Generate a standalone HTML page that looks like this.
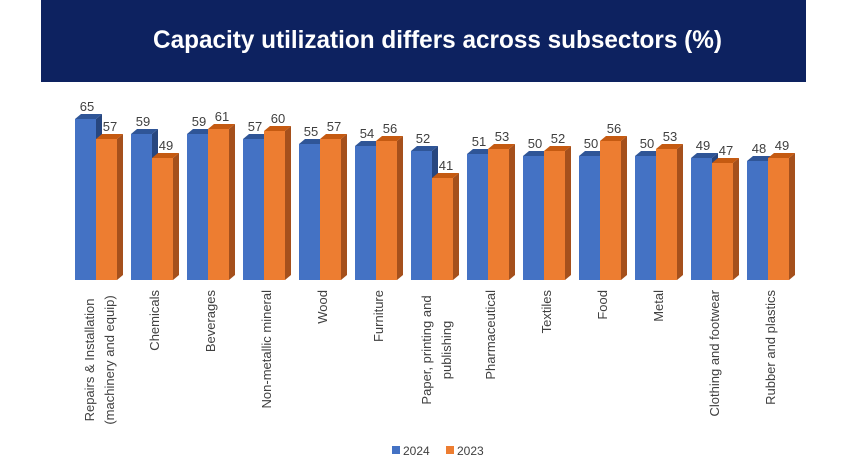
<!DOCTYPE html>
<html><head><meta charset="utf-8"><style>
body{margin:0;background:#fff;}
svg{display:block;font-family:"Liberation Sans",sans-serif;}
.b .f{fill:#4472c4}.b .t{fill:#2f5597}.b .s{fill:#27467f}
.o .f{fill:#ed7d31}.o .t{fill:#c55a11}.o .s{fill:#a5501c}
.v{font-size:13px;fill:#404040;text-anchor:middle}
.l{font-size:13px;fill:#404040}
</style></head><body>
<svg width="847" height="474" viewBox="0 0 847 474" xmlns="http://www.w3.org/2000/svg">
<rect x="0" y="0" width="847" height="474" fill="#fff"/>
<rect x="41" y="0" width="765" height="82" fill="#0d2260"/>
<text x="153" y="48" textLength="569" lengthAdjust="spacingAndGlyphs" fill="#fff" font-size="25" font-weight="bold">Capacity utilization differs across subsectors (%)</text>

<g class="b" transform="translate(75,0)"><polygon class="s" points="21,119 27,114 27,275 21,280"/><polygon class="t" points="0,119 6,114 27,114 21,119"/><rect class="f" x="0" y="119" width="21" height="161"/><text class="v" x="12" y="111">65</text></g>
<g class="o" transform="translate(96,0)"><polygon class="s" points="21,139 27,134 27,275 21,280"/><polygon class="t" points="0,139 6,134 27,134 21,139"/><rect class="f" x="0" y="139" width="21" height="141"/><text class="v" x="14" y="131">57</text></g>

<g class="b" transform="translate(131,0)"><polygon class="s" points="21,134 27,129 27,275 21,280"/><polygon class="t" points="0,134 6,129 27,129 21,134"/><rect class="f" x="0" y="134" width="21" height="146"/><text class="v" x="12" y="126">59</text></g>
<g class="o" transform="translate(152,0)"><polygon class="s" points="21,158 27,153 27,275 21,280"/><polygon class="t" points="0,158 6,153 27,153 21,158"/><rect class="f" x="0" y="158" width="21" height="122"/><text class="v" x="14" y="150">49</text></g>

<g class="b" transform="translate(187,0)"><polygon class="s" points="21,134 27,129 27,275 21,280"/><polygon class="t" points="0,134 6,129 27,129 21,134"/><rect class="f" x="0" y="134" width="21" height="146"/><text class="v" x="12" y="126">59</text></g>
<g class="o" transform="translate(208,0)"><polygon class="s" points="21,129 27,124 27,275 21,280"/><polygon class="t" points="0,129 6,124 27,124 21,129"/><rect class="f" x="0" y="129" width="21" height="151"/><text class="v" x="14" y="121">61</text></g>

<g class="b" transform="translate(243,0)"><polygon class="s" points="21,139 27,134 27,275 21,280"/><polygon class="t" points="0,139 6,134 27,134 21,139"/><rect class="f" x="0" y="139" width="21" height="141"/><text class="v" x="12" y="131">57</text></g>
<g class="o" transform="translate(264,0)"><polygon class="s" points="21,131 27,126 27,275 21,280"/><polygon class="t" points="0,131 6,126 27,126 21,131"/><rect class="f" x="0" y="131" width="21" height="149"/><text class="v" x="14" y="123">60</text></g>

<g class="b" transform="translate(299,0)"><polygon class="s" points="21,144 27,139 27,275 21,280"/><polygon class="t" points="0,144 6,139 27,139 21,144"/><rect class="f" x="0" y="144" width="21" height="136"/><text class="v" x="12" y="136">55</text></g>
<g class="o" transform="translate(320,0)"><polygon class="s" points="21,139 27,134 27,275 21,280"/><polygon class="t" points="0,139 6,134 27,134 21,139"/><rect class="f" x="0" y="139" width="21" height="141"/><text class="v" x="14" y="131">57</text></g>

<g class="b" transform="translate(355,0)"><polygon class="s" points="21,146 27,141 27,275 21,280"/><polygon class="t" points="0,146 6,141 27,141 21,146"/><rect class="f" x="0" y="146" width="21" height="134"/><text class="v" x="12" y="138">54</text></g>
<g class="o" transform="translate(376,0)"><polygon class="s" points="21,141 27,136 27,275 21,280"/><polygon class="t" points="0,141 6,136 27,136 21,141"/><rect class="f" x="0" y="141" width="21" height="139"/><text class="v" x="14" y="133">56</text></g>

<g class="b" transform="translate(411,0)"><polygon class="s" points="21,151 27,146 27,275 21,280"/><polygon class="t" points="0,151 6,146 27,146 21,151"/><rect class="f" x="0" y="151" width="21" height="129"/><text class="v" x="12" y="143">52</text></g>
<g class="o" transform="translate(432,0)"><polygon class="s" points="21,178 27,173 27,275 21,280"/><polygon class="t" points="0,178 6,173 27,173 21,178"/><rect class="f" x="0" y="178" width="21" height="102"/><text class="v" x="14" y="170">41</text></g>

<g class="b" transform="translate(467,0)"><polygon class="s" points="21,154 27,149 27,275 21,280"/><polygon class="t" points="0,154 6,149 27,149 21,154"/><rect class="f" x="0" y="154" width="21" height="126"/><text class="v" x="12" y="146">51</text></g>
<g class="o" transform="translate(488,0)"><polygon class="s" points="21,149 27,144 27,275 21,280"/><polygon class="t" points="0,149 6,144 27,144 21,149"/><rect class="f" x="0" y="149" width="21" height="131"/><text class="v" x="14" y="141">53</text></g>

<g class="b" transform="translate(523,0)"><polygon class="s" points="21,156 27,151 27,275 21,280"/><polygon class="t" points="0,156 6,151 27,151 21,156"/><rect class="f" x="0" y="156" width="21" height="124"/><text class="v" x="12" y="148">50</text></g>
<g class="o" transform="translate(544,0)"><polygon class="s" points="21,151 27,146 27,275 21,280"/><polygon class="t" points="0,151 6,146 27,146 21,151"/><rect class="f" x="0" y="151" width="21" height="129"/><text class="v" x="14" y="143">52</text></g>

<g class="b" transform="translate(579,0)"><polygon class="s" points="21,156 27,151 27,275 21,280"/><polygon class="t" points="0,156 6,151 27,151 21,156"/><rect class="f" x="0" y="156" width="21" height="124"/><text class="v" x="12" y="148">50</text></g>
<g class="o" transform="translate(600,0)"><polygon class="s" points="21,141 27,136 27,275 21,280"/><polygon class="t" points="0,141 6,136 27,136 21,141"/><rect class="f" x="0" y="141" width="21" height="139"/><text class="v" x="14" y="133">56</text></g>

<g class="b" transform="translate(635,0)"><polygon class="s" points="21,156 27,151 27,275 21,280"/><polygon class="t" points="0,156 6,151 27,151 21,156"/><rect class="f" x="0" y="156" width="21" height="124"/><text class="v" x="12" y="148">50</text></g>
<g class="o" transform="translate(656,0)"><polygon class="s" points="21,149 27,144 27,275 21,280"/><polygon class="t" points="0,149 6,144 27,144 21,149"/><rect class="f" x="0" y="149" width="21" height="131"/><text class="v" x="14" y="141">53</text></g>

<g class="b" transform="translate(691,0)"><polygon class="s" points="21,158 27,153 27,275 21,280"/><polygon class="t" points="0,158 6,153 27,153 21,158"/><rect class="f" x="0" y="158" width="21" height="122"/><text class="v" x="12" y="150">49</text></g>
<g class="o" transform="translate(712,0)"><polygon class="s" points="21,163 27,158 27,275 21,280"/><polygon class="t" points="0,163 6,158 27,158 21,163"/><rect class="f" x="0" y="163" width="21" height="117"/><text class="v" x="14" y="155">47</text></g>

<g class="b" transform="translate(747,0)"><polygon class="s" points="21,161 27,156 27,275 21,280"/><polygon class="t" points="0,161 6,156 27,156 21,161"/><rect class="f" x="0" y="161" width="21" height="119"/><text class="v" x="12" y="153">48</text></g>
<g class="o" transform="translate(768,0)"><polygon class="s" points="21,158 27,153 27,275 21,280"/><polygon class="t" points="0,158 6,153 27,153 21,158"/><rect class="f" x="0" y="158" width="21" height="122"/><text class="v" x="14" y="150">49</text></g>

<text class="l" transform="translate(94,360) rotate(-90)" text-anchor="middle">Repairs &amp; Installation</text>
<text class="l" transform="translate(114,360) rotate(-90)" text-anchor="middle">(machinery and equip)</text>
<text class="l" transform="translate(159,290) rotate(-90)" text-anchor="end">Chemicals</text>
<text class="l" transform="translate(215,290) rotate(-90)" text-anchor="end">Beverages</text>
<text class="l" transform="translate(271,290) rotate(-90)" text-anchor="end">Non-metallic mineral</text>
<text class="l" transform="translate(327,290) rotate(-90)" text-anchor="end">Wood</text>
<text class="l" transform="translate(383,290) rotate(-90)" text-anchor="end">Furniture</text>
<text class="l" transform="translate(431,350) rotate(-90)" text-anchor="middle">Paper, printing and</text>
<text class="l" transform="translate(451,350) rotate(-90)" text-anchor="middle">publishing</text>
<text class="l" transform="translate(495,290) rotate(-90)" text-anchor="end">Pharmaceutical</text>
<text class="l" transform="translate(551,290) rotate(-90)" text-anchor="end">Textiles</text>
<text class="l" transform="translate(607,290) rotate(-90)" text-anchor="end">Food</text>
<text class="l" transform="translate(663,290) rotate(-90)" text-anchor="end">Metal</text>
<text class="l" transform="translate(719,290) rotate(-90)" text-anchor="end">Clothing and footwear</text>
<text class="l" transform="translate(775,290) rotate(-90)" text-anchor="end">Rubber and plastics</text>

<rect x="392" y="446" width="8" height="8" fill="#4472c4"/>
<text x="403" y="455" font-size="12" fill="#404040">2024</text>
<rect x="446" y="446" width="8" height="8" fill="#ed7d31"/>
<text x="457" y="455" font-size="12" fill="#404040">2023</text>
</svg>
</body></html>
